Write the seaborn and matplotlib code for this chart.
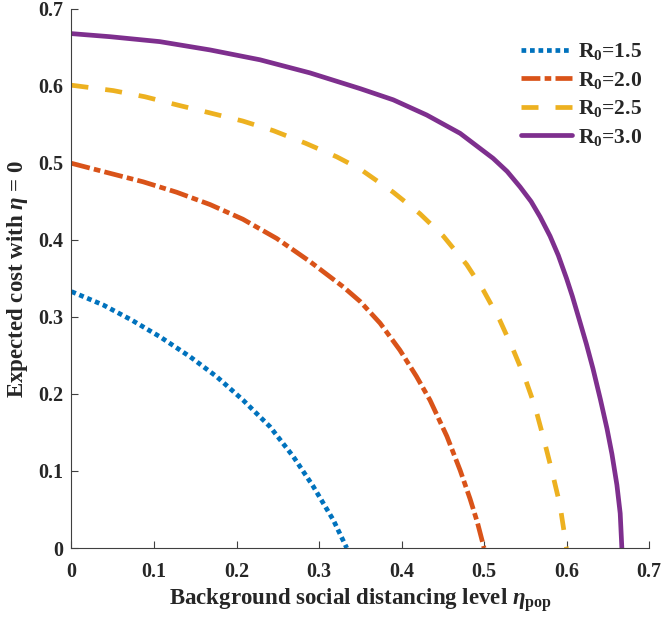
import numpy as np
import pandas as pd
import matplotlib
matplotlib.use("Agg")
import matplotlib.pyplot as plt
import seaborn as sns

# ---- data ----
x_r15 = [0, 0.0385, 0.073, 0.107, 0.1436, 0.176, 0.208, 0.2406, 0.2689, 0.293, 0.3173, 0.3336]
y_r15 = [0.333, 0.3156, 0.296, 0.2745, 0.2485, 0.2225, 0.192, 0.1575, 0.1186, 0.080, 0.0364, 0.0]

x_r20 = [0, 0.0467, 0.087, 0.1275, 0.168, 0.2077, 0.2487, 0.289, 0.3295, 0.35, 0.374, 0.398,
         0.418, 0.4345, 0.455, 0.471, 0.483, 0.492, 0.5]
y_r20 = [0.4996, 0.4866, 0.4755, 0.462, 0.446, 0.427, 0.402, 0.372, 0.339, 0.320, 0.292, 0.257,
         0.223, 0.192, 0.145, 0.101, 0.064, 0.033, 0.0]

x_r25 = [0, 0.0507, 0.089, 0.1295, 0.168, 0.2075, 0.2446, 0.284, 0.3215, 0.35, 0.390, 0.4224,
         0.4507, 0.479, 0.499, 0.519, 0.5355, 0.5497, 0.5618, 0.572, 0.582, 0.592, 0.6]
y_r25 = [0.601, 0.594, 0.586, 0.575, 0.565, 0.5545, 0.542, 0.5255, 0.508, 0.492, 0.462, 0.434,
         0.405, 0.368, 0.335, 0.296, 0.257, 0.2204, 0.1835, 0.143, 0.101, 0.056, 0.0]

x_r30 = [0, 0.0467, 0.107, 0.168, 0.2285, 0.289, 0.35, 0.39, 0.4305, 0.471, 0.511, 0.528, 0.5436,
         0.557, 0.568, 0.580, 0.590, 0.600, 0.607, 0.615, 0.624, 0.632, 0.641, 0.649, 0.655, 0.661,
         0.665, 0.667]
y_r30 = [0.668, 0.664, 0.6576, 0.6468, 0.634, 0.617, 0.5965, 0.582, 0.5623, 0.5385, 0.506, 0.489, 0.469,
         0.450, 0.430, 0.405, 0.380, 0.350, 0.327, 0.298, 0.265, 0.233, 0.193, 0.155, 0.122, 0.082,
         0.045, 0.0]

labels = ["R$_0$=1.5", "R$_0$=2.0", "R$_0$=2.5", "R$_0$=3.0"]
colors = ["#0072BD", "#D95319", "#EDB120", "#7E2F8E"]
xticks = [0, 0.1, 0.2, 0.3, 0.4, 0.5, 0.6, 0.7]
xtick_labels = ["0", "0.1", "0.2", "0.3", "0.4", "0.5", "0.6", "0.7"]

frames = []
for lab, xs, ys in zip(labels, [x_r15, x_r20, x_r25, x_r30], [y_r15, y_r20, y_r25, y_r30]):
    frames.append(pd.DataFrame({"x": xs, "y": ys, "series": lab}))
df = pd.concat(frames, ignore_index=True)

sns.set_theme(style="ticks")
plt.rcParams["font.family"] = ["Liberation Serif", "DejaVu Serif"]
plt.rcParams["font.weight"] = "bold"
plt.rcParams["mathtext.fontset"] = "custom"
plt.rcParams["mathtext.rm"] = "Liberation Serif:bold"
plt.rcParams["mathtext.bf"] = "Liberation Serif:bold"
plt.rcParams["mathtext.it"] = "Liberation Serif:italic"
plt.rcParams["xtick.direction"] = "in"
plt.rcParams["ytick.direction"] = "in"

fig = plt.figure(figsize=(6.63, 6.19), dpi=100)
ax = fig.add_axes([0.1078, 0.1147, 0.979 - 0.1078, 0.9855 - 0.1147])

dashes = {labels[0]: (1.0, 0.8), labels[1]: (4.0, 0.9, 1.4, 0.9),
          labels[2]: (3.6, 3.6), labels[3]: ""}
palette = dict(zip(labels, colors))

sns.lineplot(data=df, x="x", y="y", hue="series", style="series", palette=palette,
             dashes=dashes, estimator=None, sort=False, linewidth=3.4, ax=ax)

ax.set_xlim(0, 0.7)
ax.set_ylim(0, 0.7)
ax.set_xticks(xticks)
ax.set_xticklabels(xtick_labels)
ax.set_yticks(xticks)
ax.set_yticklabels(xtick_labels)
ax.tick_params(axis="both", labelsize=14.5, length=5, width=0.8, color="#404040")
ax.tick_params(axis="x", pad=10)
ax.tick_params(axis="y", pad=6)
for lbl in ax.get_xticklabels() + ax.get_yticklabels():
    lbl.set_fontweight("bold")
for s in ["top", "right"]:
    ax.spines[s].set_visible(False)
for s in ["left", "bottom"]:
    ax.spines[s].set_color("#404040")
    ax.spines[s].set_linewidth(0.8)

ax.set_xlabel(r"Background social distancing level $\eta_{\mathregular{pop}}$",
              fontsize=16.5, fontweight="bold", labelpad=3)
ax.set_ylabel(r"Expected cost with $\eta$ = 0", fontsize=16.5, fontweight="bold", labelpad=6)

leg = ax.legend(loc="upper left", bbox_to_anchor=(0.779, 0.94), frameon=False, fontsize=15.5,
                handlelength=2.37, handletextpad=0.25, labelspacing=0.35, borderpad=0, borderaxespad=0)
for t in leg.get_texts():
    t.set_fontweight("bold")

fig.savefig("out.png", dpi=100)
